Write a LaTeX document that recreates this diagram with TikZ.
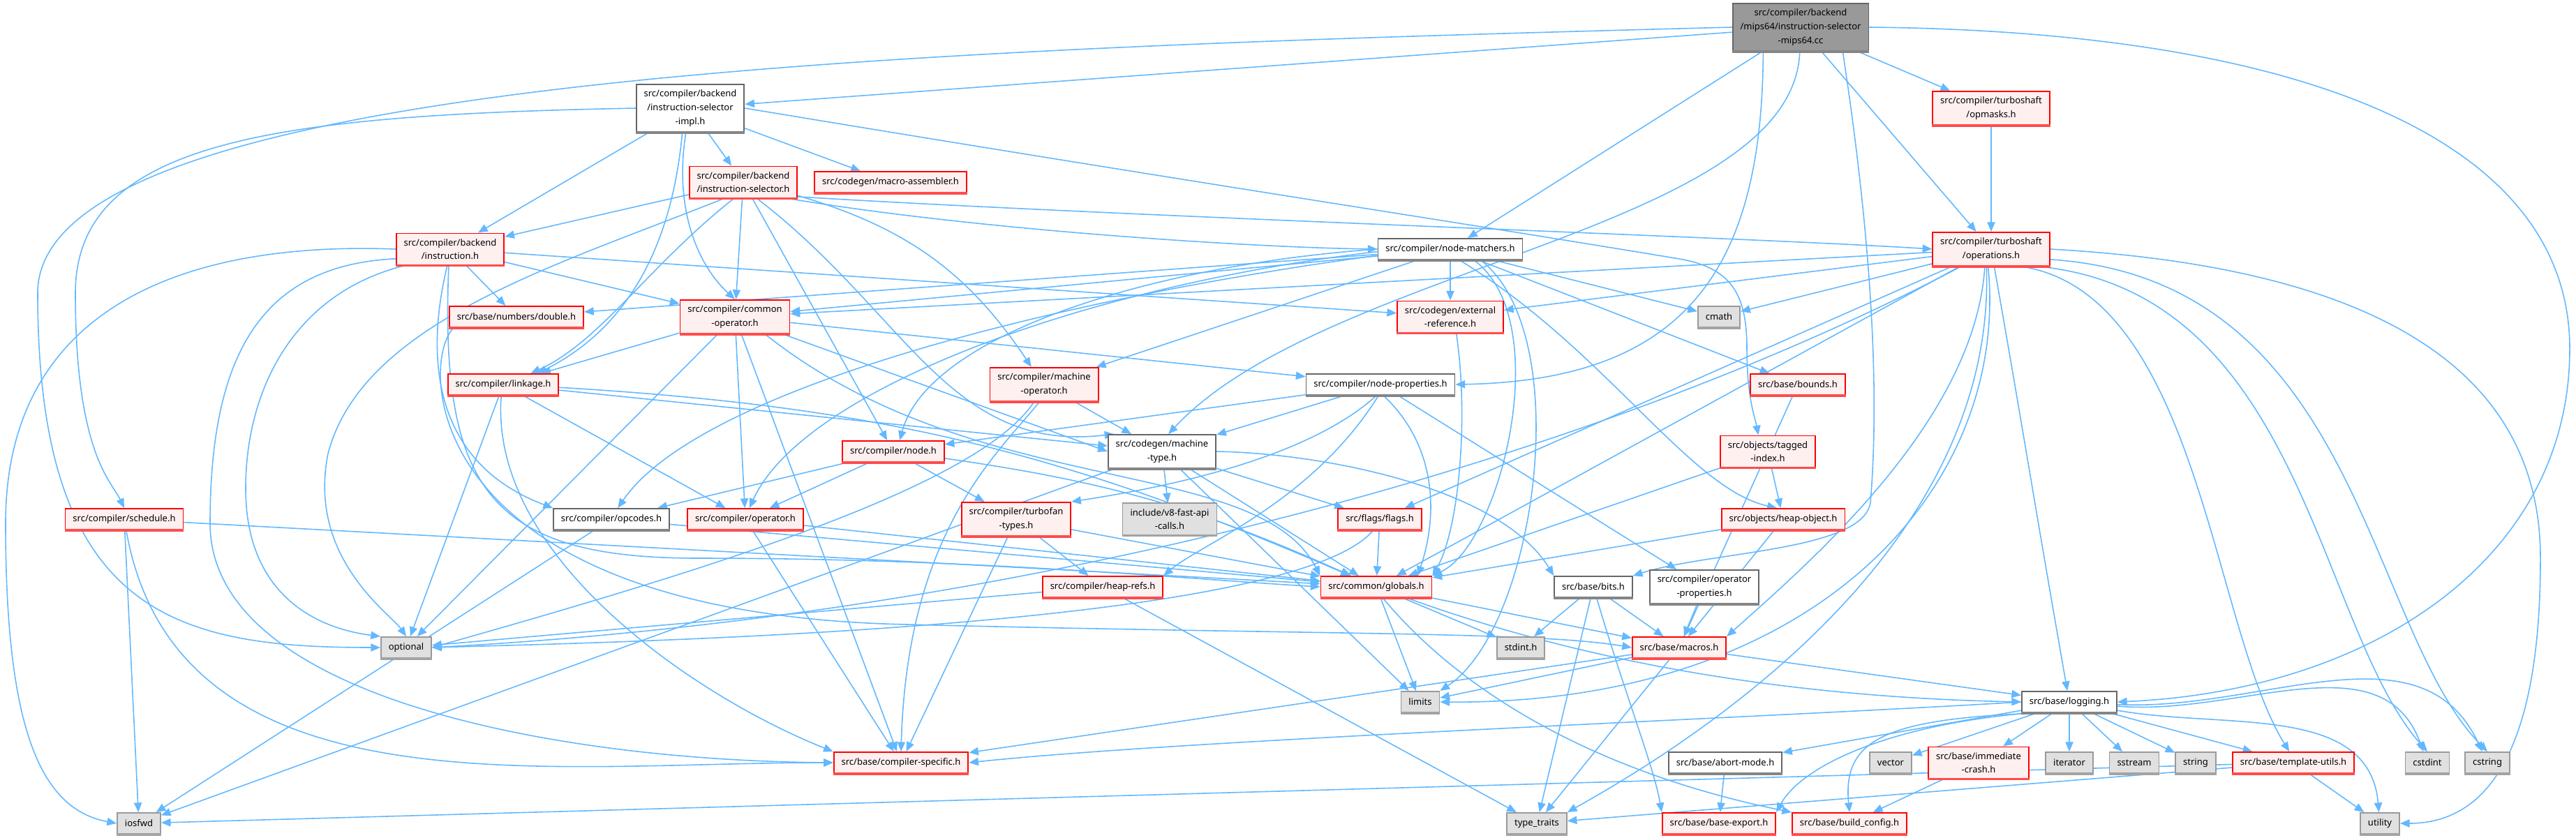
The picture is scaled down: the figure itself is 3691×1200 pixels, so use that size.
\documentclass[tikz,border=0pt]{standalone}
\usepackage{fontspec}
\setmainfont{Noto Sans}
\usetikzlibrary{arrows.meta,backgrounds}
\definecolor{edgeblue}{HTML}{63B8FF}
\definecolor{redline}{HTML}{FF0000}
\definecolor{redfill}{HTML}{FFF0F0}
\definecolor{sysfill}{HTML}{E0E0E0}
\definecolor{sysline}{HTML}{999999}
\definecolor{fileline}{HTML}{666666}
\begin{document}
\begin{tikzpicture}[
  x=0.01cm, y=-0.01cm,
  underrule/.style={append after command={(\tikzlastnode.south west) edge[draw=#1, line width=1.1pt, -] (\tikzlastnode.south east)}},
  box/.style={draw, line width=0.5pt, font=\fontsize{3.7}{5.6}\selectfont, align=center,
    inner xsep=3.1pt, inner ysep=2.2pt, minimum height=0.3cm},
  file/.style={box, draw=fileline, fill=white, underrule=fileline!80},
  redfile/.style={box, draw=redline, fill=redfill, underrule=redline!70},
  sysfile/.style={box, draw=sysline, fill=sysfill, underrule=sysline!90},
  mainfile/.style={box, draw=fileline, fill=sysline, underrule=fileline!80},
  dep/.style={draw=edgeblue, line width=0.45pt, -{Triangle[length=3.9pt,width=3.2pt]}},
  every edge/.style={dep}
]
\useasboundingbox (0,0) rectangle (3691,1200);

\node[mainfile] (root) at (2580,39) {src/compiler/backend\\/mips64/instruction-selector\\-mips64.cc};
\node[file] (impl) at (989,155) {src/compiler/backend\\/instruction-selector\\-impl.h};
\node[redfile] (opmasks) at (2853,155) {src/compiler/turboshaft\\/opmasks.h};
\node[redfile] (isel) at (1065,261) {src/compiler/backend\\/instruction-selector.h};
\node[redfile] (masm) at (1276,261) {src/codegen/macro-assembler.h};
\node[redfile] (instr) at (645,357) {src/compiler/backend\\/instruction.h};
\node[file] (matchers) at (2078,357) {src/compiler/node-matchers.h};
\node[redfile] (operations) at (2853,357) {src/compiler/turboshaft\\/operations.h};
\node[redfile] (double) at (740,454) {src/base/numbers/double.h};
\node[redfile] (commonop) at (1053,454) {src/compiler/common\\-operator.h};
\node[redfile] (extref) at (2078,454) {src/codegen/external\\-reference.h};
\node[sysfile] (cmath) at (2463,454) {cmath};
\node[redfile] (linkage) at (721,551) {src/compiler/linkage.h};
\node[redfile] (machop) at (1496,551) {src/compiler/machine\\-operator.h};
\node[file] (nodeprops) at (1978,551) {src/compiler/node-properties.h};
\node[redfile] (bounds) at (2576,551) {src/base/bounds.h};
\node[redfile] (node) at (1280,647) {src/compiler/node.h};
\node[file] (mtype) at (1665,647) {src/codegen/machine\\-type.h};
\node[redfile] (tagged) at (2533,647) {src/objects/tagged\\-index.h};
\node[redfile] (schedule) at (178,744) {src/compiler/schedule.h};
\node[file] (opcodes) at (876,744) {src/compiler/opcodes.h};
\node[redfile] (operator) at (1068,744) {src/compiler/operator.h};
\node[redfile] (tftypes) at (1456,744) {src/compiler/turbofan\\-types.h};
\node[sysfile] (fastapi) at (1676,744) {include/v8-fast-api\\-calls.h};
\node[redfile] (flags) at (1977,744) {src/flags/flags.h};
\node[redfile] (heapobj) at (2555,744) {src/objects/heap-object.h};
\node[redfile] (heaprefs) at (1580,841) {src/compiler/heap-refs.h};
\node[redfile] (globals) at (1972,841) {src/common/globals.h};
\node[file] (bits) at (2283,841) {src/base/bits.h};
\node[file] (opprops) at (2442,841) {src/compiler/operator\\-properties.h};
\node[sysfile] (optional) at (582,928) {optional};
\node[sysfile] (stdint) at (2179,928) {stdint.h};
\node[redfile] (macros) at (2406,928) {src/base/macros.h};
\node[sysfile] (limits) at (2035,1006) {limits};
\node[file] (logging) at (2965,1006) {src/base/logging.h};
\node[redfile] (compspec) at (1291,1093) {src/base/compiler-specific.h};
\node[file] (abort) at (2472,1093) {src/base/abort-mode.h};
\node[sysfile] (vector) at (2709,1093) {vector};
\node[redfile] (immcrash) at (2835,1093) {src/base/immediate\\-crash.h};
\node[sysfile] (iterator) at (2965,1093) {iterator};
\node[sysfile] (sstream) at (3058,1093) {sstream};
\node[sysfile] (string) at (3146,1093) {string};
\node[redfile] (tutils) at (3286,1093) {src/base/template-utils.h};
\node[sysfile] (cstdint) at (3478,1093) {cstdint};
\node[sysfile] (cstring) at (3564,1093) {cstring};
\node[sysfile] (iosfwd) at (199,1180) {iosfwd};
\node[sysfile] (typetraits) at (2202,1180) {type\_traits};
\node[redfile] (baseexport) at (2463,1180) {src/base/base-export.h};
\node[redfile] (buildconfig) at (2650,1180) {src/base/build\_config.h};
\node[sysfile] (utility) at (3410,1180) {utility};

\begin{scope}[on background layer]
\draw[dep] (root.west) .. controls (1300,70) and (54,110) .. (54,420) .. controls (54,880) and (250,928) .. (optional.west);
\draw[dep] (root.-147) .. controls (2525,380) and (2420,545) .. (nodeprops.east);
\draw[dep] (root.-92) .. controls (2570,330) and (1900,380) .. (mtype.70);
\draw[dep] (root.-30) .. controls (2690,400) and (2690,600) .. (2680,720) .. controls (2670,790) and (2450,790) .. (bits.north east);
\draw[dep] (root.east) .. controls (3300,45) and (3682,200) .. (3682,500) .. controls (3682,800) and (3400,990) .. (logging.east);
\path (root) edge (impl) edge (matchers) edge (operations) edge (opmasks);
\path (opmasks) edge (operations);

\draw[dep] (impl.west) .. controls (400,165) and (108,200) .. (108,420) .. controls (108,650) and (160,690) .. (schedule.north);
\draw[dep] (impl.east) .. controls (1700,260) and (2100,320) .. (2400,370) .. controls (2480,382) and (2503,420) .. (2503,500) .. controls (2503,570) and (2515,600) .. (tagged.120);
\draw[dep] (impl.-108) .. controls (960,380) and (880,480) .. (linkage.18);
\draw[dep] (impl.-100) .. controls (965,300) and (1000,380) .. (commonop.north);
\path (impl) edge (isel) edge (masm) edge (instr);

\draw[dep] (isel.-140) .. controls (800,380) and (520,460) .. (470,650) .. controls (440,800) and (560,880) .. (optional.north);
\draw[dep] (isel.-120) .. controls (930,380) and (860,490) .. (linkage.22);
\draw[dep] (isel.-50) .. controls (1300,450) and (1360,650) .. (mtype.160);
\draw[dep] (isel.-20) .. controls (1400,330) and (1800,355) .. (matchers.west);
\draw[dep] (isel.-15) .. controls (1600,310) and (2500,340) .. (operations.west);
\path (isel) edge (instr) edge (commonop) edge (node) edge[bend left=20] (machop);

\draw[dep] (instr.west) .. controls (250,345) and (8,450) .. (8,750) .. controls (8,1050) and (60,1160) .. (iosfwd.west);
\draw[dep] (instr.-170) .. controls (380,380) and (301,500) .. (301,750) .. controls (301,1000) and (800,1090) .. (compspec.west);
\draw[dep] (instr.-160) .. controls (420,420) and (352,560) .. (352,700) .. controls (352,850) and (450,900) .. (optional.north west);
\draw[dep] (instr.-100) .. controls (612,500) and (612,660) .. (opcodes.north west);
\draw[dep] (instr.-95) .. controls (630,700) and (700,800) .. (1000,800) .. controls (1400,800) and (1700,830) .. (globals.west);
\path (instr) edge (double) edge (commonop) edge (extref);

\draw[dep] (commonop.-30) .. controls (1400,720) and (1800,650) .. (globals.north west);
\path (commonop) edge (linkage) edge (optional) edge (compspec) edge (mtype.west)
  edge (nodeprops) edge (operator);
\draw[dep] (linkage.-100) .. controls (700,800) and (1000,1000) .. (compspec.north west);
\path (linkage) edge (optional) edge (operator) edge[bend left=10] (globals) edge (mtype);
\draw[dep] (double.-170) .. controls (600,520) and (600,880) .. (1300,895) .. controls (1900,910) and (2200,905) .. (macros.west);

\draw[dep] (matchers.west) .. controls (1650,380) and (1330,480) .. (node.60);
\draw[dep] (matchers.-175) .. controls (1500,430) and (1000,560) .. (opcodes.60);
\draw[dep] (matchers.-178) .. controls (1550,410) and (1150,560) .. (operator.70);
\draw[dep] (matchers.-50) .. controls (2300,500) and (2420,700) .. (heapobj.120);
\draw[dep] (matchers.-25) .. controls (2230,460) and (2150,780) .. (globals.north east);
\draw[dep] (matchers.-20) .. controls (2260,480) and (2200,900) .. (limits.north east);
\path (matchers) edge (double) edge (commonop) edge (extref) edge (cmath) edge (bounds) edge (machop);

\draw[dep] (operations.-150) .. controls (2300,650) and (1500,880) .. (optional.east);
\draw[dep] (operations.-100) .. controls (2880,700) and (2600,1010) .. (limits.east);
\draw[dep] (operations.-110) .. controls (2830,600) and (2600,800) .. (macros.north east);
\draw[dep] (operations.-105) .. controls (2860,780) and (2450,1050) .. (typetraits.north east);
\draw[dep] (operations.-30) .. controls (3150,420) and (3170,900) .. (tutils.110);
\draw[dep] (operations.-20) .. controls (3300,420) and (3320,900) .. (cstdint.north);
\draw[dep] (operations.-10) .. controls (3380,400) and (3390,900) .. (cstring.north);
\draw[dep] (operations.east) .. controls (3350,380) and (3640,500) .. (3640,800) .. controls (3640,1100) and (3550,1180) .. (utility.east);
\path (operations) edge (commonop) edge (extref) edge (cmath) edge (flags) edge (globals)
  edge[out=-80,in=100] (logging);

\draw[dep] (extref.-70) .. controls (2105,600) and (2090,760) .. (globals.north east);
\draw[dep] (machop.-105) .. controls (1430,650) and (1300,760) .. (compspec.north);
\draw[dep] (machop.-120) .. controls (1400,700) and (1000,820) .. (optional.east);
\path (machop) edge (mtype);
\draw[dep] (nodeprops.-110) .. controls (1870,660) and (1660,700) .. (tftypes.north east);
\draw[dep] (nodeprops.-100) .. controls (1880,720) and (1720,780) .. (heaprefs.north east);
\draw[dep] (nodeprops.-75) .. controls (2060,640) and (2060,740) .. (globals.15);
\path (nodeprops) edge (node) edge (mtype) edge (opprops);
\path (bounds) edge (macros);
\path (node) edge (opcodes) edge (operator) edge (tftypes) edge[bend left=8] (globals);
\draw[dep] (mtype.east) .. controls (1900,650) and (2150,700) .. (bits.north west);
\path (mtype) edge (iosfwd) edge (fastapi) edge (flags) edge (globals) edge (limits);
\path (tagged) edge (globals) edge (heapobj);
\path (schedule) edge (iosfwd) edge (globals) edge[out=-80,in=180] (compspec);
\path (opcodes) edge (iosfwd) edge (globals);
\path (operator) edge (compspec) edge (globals);
\path (tftypes) edge (compspec) edge (heaprefs) edge (globals);
\draw[dep] (flags.-120) .. controls (1850,900) and (900,920) .. (optional.east);
\path (flags) edge (globals);
\path (heapobj) edge (globals) edge (macros);
\path (heaprefs) edge (optional) edge (typetraits);
\draw[dep] (globals.-20) .. controls (2300,960) and (2600,1000) .. (logging.west);
\draw[dep] (globals.-60) .. controls (2100,1000) and (2300,1110) .. (buildconfig.north west);
\path (globals) edge (limits) edge (stdint) edge (macros);
\draw[dep] (bits) .. controls (2330,1000) and (2370,1100) .. (baseexport.north west);
\path (bits) edge (stdint) edge (typetraits) edge (macros);
\path (opprops) edge (macros);
\path (macros) edge (limits) edge (typetraits) edge (compspec) edge (logging);
\draw[dep] (logging.west) .. controls (2500,1030) and (1700,1060) .. (compspec.east);
\draw[dep] (logging.-165) .. controls (2700,1040) and (2580,1100) .. (baseexport.north east);
\draw[dep] (logging.-160) .. controls (2700,1030) and (2640,1060) .. (buildconfig.north);
\path (logging) edge (abort) edge (vector) edge (immcrash) edge (iterator) edge (sstream)
  edge (string) edge (tutils) edge[out=-5,in=110] (cstdint) edge[out=-3,in=115] (cstring)
  edge[out=-10,in=95] (utility);
\path (abort) edge (baseexport);
\path (immcrash) edge (buildconfig);
\path (tutils) edge (iosfwd) edge (typetraits) edge (utility);
\end{scope}
\end{tikzpicture}
\end{document}
